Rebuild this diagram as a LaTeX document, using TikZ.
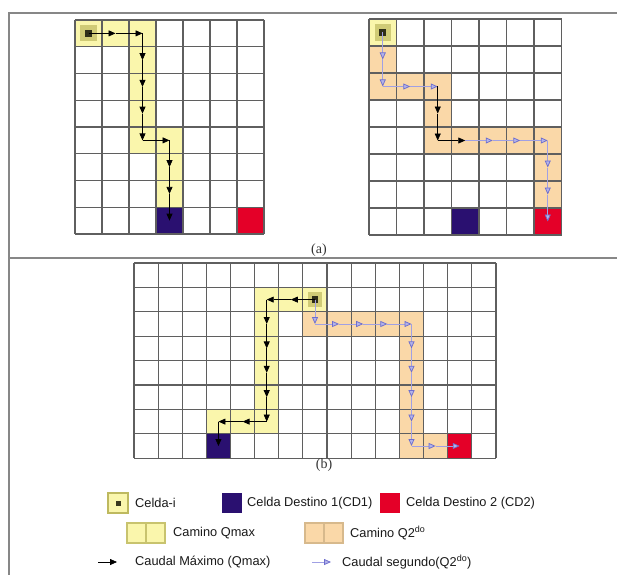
\documentclass[tikz,border=0pt]{standalone}
\usepackage{fontspec}
\setmainfont{Liberation Serif}
\setsansfont{Liberation Sans}
\usetikzlibrary{arrows.meta,calc}
\definecolor{qmaxfill}{RGB}{250,246,172}
\definecolor{qtwofill}{RGB}{250,216,168}
\definecolor{cdone}{RGB}{42,16,112}
\definecolor{cdtwo}{RGB}{228,0,40}
\definecolor{gridc}{RGB}{95,95,95}
\definecolor{framec}{RGB}{135,135,135}
\definecolor{lav}{RGB}{160,160,228}
\definecolor{lavdark}{RGB}{110,110,205}
\definecolor{celliol}{RGB}{190,185,95}
\definecolor{qmaxedge}{RGB}{200,195,110}
\definecolor{qtwoedge}{RGB}{215,185,140}
\tikzset{
  gridline/.style={draw=gridc, line width=1.1pt},
  framerule/.style={draw=framec, line width=1.4pt},
  qmaxarrow/.style={draw=black, line width=0.75pt, -{Triangle[length=7pt,width=6pt]}},
  qtwoarrow/.style={draw=lav, line width=0.75pt, -{Triangle[length=7pt,width=6pt,color=lavdark,fill=lav!80]}},
  legtext/.style={anchor=west, inner sep=0pt, font=\sffamily\fontsize{12.8}{15}\selectfont, text=black!90},
  captext/.style={inner sep=0pt, font=\fontsize{14}{16}\selectfont, text=black!80},
  legsq/.style={minimum width=20pt, minimum height=20pt, inner sep=0pt},
  legpath/.style={minimum width=19pt, minimum height=20pt, inner sep=0pt, line width=1.2pt},
}
\newcommand{\cellfill}[3]{\fill[#1] (#2,#3) rectangle ++(1,1);}
\newcommand{\celli}[2]{%
  \fill[qmaxfill] (#1,#2) rectangle ++(1,1);
  \fill[celliol!70!qmaxfill] (#1+.2,#2+.2) rectangle ++(.6,.6);
  \fill[black!75!celliol] (#1+.37,#2+.37) rectangle ++(.26,.26);}
\begin{document}
\begin{tikzpicture}[x=1pt,y=-1pt]
\useasboundingbox (0,0) rectangle (617,575);
% frame
\draw[framerule] (617,13) -- (9,13) -- (9,575);
\draw[framerule] (9,258) -- (617,258);

% ---------- grid A (top left) ----------
\begin{scope}[shift={(75,20)}, x=27pt, y=-26.75pt]
  \celli{0}{0}
  \foreach \c/\r in {1/0,2/0,2/1,2/2,2/3,2/4,3/4,3/5,3/6} {\cellfill{qmaxfill}{\c}{\r}}
  \cellfill{cdone}{3}{7}
  \cellfill{cdtwo}{6}{7}
  \foreach \i in {0,...,7} \draw[gridline] (\i,0) -- (\i,8);
  \foreach \j in {0,...,8} \draw[gridline] (0,\j) -- (7,\j);
  \foreach \c in {0,...,6} \foreach \r in {0,...,7} \coordinate (A\c-\r) at (\c+.5,\r+.5);
\end{scope}
\foreach \a/\b in {0-0/1-0,1-0/2-0,2-0/2-1,2-1/2-2,2-2/2-3,2-3/2-4,2-4/3-4,3-4/3-5,3-5/3-6,3-6/3-7}
  \draw[qmaxarrow] (A\a) -- (A\b);

% ---------- grid B (top right) ----------
\begin{scope}[shift={(369,19)}, x=27.5pt, y=-27pt]
  \celli{0}{0}
  \foreach \c/\r in {0/1,0/2,1/2,2/2,2/3,2/4,3/4,4/4,5/4,6/4,6/5,6/6} {\cellfill{qtwofill}{\c}{\r}}
  \cellfill{cdone}{3}{7}
  \cellfill{cdtwo}{6}{7}
  \foreach \i in {0,...,7} \draw[gridline] (\i,0) -- (\i,8);
  \foreach \j in {0,...,8} \draw[gridline] (0,\j) -- (7,\j);
  \foreach \c in {0,...,6} \foreach \r in {0,...,7} \coordinate (B\c-\r) at (\c+.5,\r+.5);
\end{scope}
\foreach \a/\b in {0-0/0-1,0-1/0-2,0-2/1-2,1-2/2-2,3-4/4-4,4-4/5-4,5-4/6-4,6-4/6-5,6-5/6-6,6-6/6-7}
  \draw[qtwoarrow] (B\a) -- (B\b);
\foreach \a/\b in {2-2/2-3,2-3/2-4,2-4/3-4}
  \draw[qmaxarrow] (B\a) -- (B\b);

% ---------- grid C (bottom) ----------
\begin{scope}[shift={(134,263)}, x=24.13pt, y=-24.4pt]
  \foreach \c/\r in {5/1,6/1,5/2,5/3,5/4,5/5,5/6,4/6,3/6} {\cellfill{qmaxfill}{\c}{\r}}
  \foreach \c/\r in {7/2,8/2,9/2,10/2,11/2,11/3,11/4,11/5,11/6,11/7,12/7} {\cellfill{qtwofill}{\c}{\r}}
  \celli{7}{1}
  \cellfill{cdone}{3}{7}
  \cellfill{cdtwo}{13}{7}
  \foreach \i in {0,...,15} \draw[gridline] (\i,0) -- (\i,8);
  \foreach \j in {0,...,8} \draw[gridline] (0,\j) -- (15,\j);
  \foreach \c in {0,...,14} \foreach \r in {0,...,7} \coordinate (C\c-\r) at (\c+.5,\r+.5);
\end{scope}
\foreach \a/\b in {7-1/6-1,6-1/5-1,5-1/5-2,5-2/5-3,5-3/5-4,5-4/5-5,5-5/5-6,5-6/4-6,4-6/3-6,3-6/3-7}
  \draw[qmaxarrow] (C\a) -- (C\b);
\foreach \a/\b in {7-1/7-2,7-2/8-2,8-2/9-2,9-2/10-2,10-2/11-2,11-2/11-3,11-3/11-4,11-4/11-5,11-5/11-6,11-6/11-7,11-7/12-7,12-7/13-7}
  \draw[qtwoarrow] (C\a) -- (C\b);

% captions
\node[captext] (capa) at (319,250) {(a)};
\node[captext] (capb) at (324,465) {(b)};

% ---------- legend ----------
\node[legsq, fill=qmaxfill, draw=celliol, line width=1.4pt] (lgi) at (118,503) {};
\fill[black!70!celliol] ($(lgi.center)+(-2.5,-2.5)$) rectangle ($(lgi.center)+(2.5,2.5)$);
\node[legtext] (lgit) at (135,503) {Celda-i};
\node[legsq, fill=cdone] (lgone) at (232,503) {};
\node[legtext] (lgonet) at (247,503) {Celda Destino 1(CD1)};
\node[legsq, fill=cdtwo] (lgtwo) at (390,503) {};
\node[legtext] (lgtwot) at (406,503) {Celda Destino 2 (CD2)};

\node[legpath, fill=qmaxfill, draw=qmaxedge] (lqa) at (136.5,533) {};
\node[legpath, fill=qmaxfill, draw=qmaxedge] (lqb) at (155.5,533) {};
\node[legtext] (lqt) at (173,533) {Camino Qmax};
\node[legpath, fill=qtwofill, draw=qtwoedge] (lra) at (314.5,533) {};
\node[legpath, fill=qtwofill, draw=qtwoedge] (lrb) at (333.5,533) {};
\node[legtext] (lrt) at (350,533) {Camino Q2\textsuperscript{do}};

\coordinate (lka) at (98,562);
\coordinate (lkb) at (117,562);
\draw[qmaxarrow] (lka) -- (lkb);
\node[legtext] (lkt) at (135,562) {Caudal Máximo (Qmax)};
\coordinate (lba) at (312,562);
\coordinate (lbb) at (331,562);
\draw[qtwoarrow] (lba) -- (lbb);
\node[legtext] (lbt) at (342,562) {Caudal segundo(Q2\textsuperscript{do})};
\end{tikzpicture}
\end{document}
